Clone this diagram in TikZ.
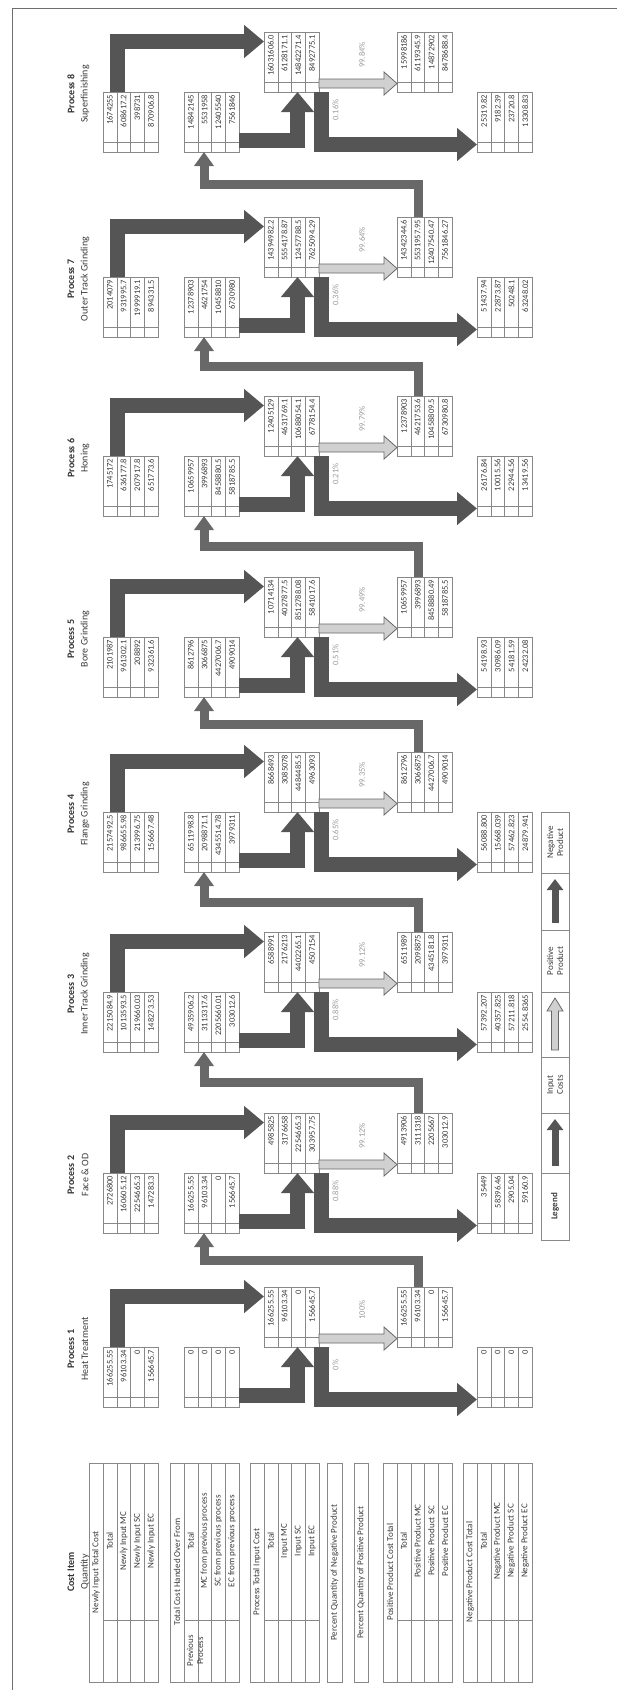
\documentclass[tikz,border=0pt]{standalone}
\usepackage{fontspec}
\setmainfont{Carlito}
\usetikzlibrary{arrows.meta,calc}
\definecolor{ardark}{HTML}{555555}
\definecolor{arfb}{HTML}{686868}
\definecolor{arpos}{HTML}{D0D0D0}
\definecolor{lngray}{HTML}{888888}
\definecolor{txtgray}{HTML}{3C3C3C}
\definecolor{pctgray}{HTML}{9C9C9C}
\definecolor{framegray}{HTML}{6E6E6E}
\tikzset{
  tbl/.style={draw=lngray,line width=0.7pt,fill=white,minimum width=55pt,minimum height=60pt,inner sep=0pt,outer sep=0pt,anchor=north west},
  ctbl/.style={draw=lngray,line width=0.7pt,fill=white,minimum width=69pt,minimum height=219pt,inner sep=0pt,outer sep=0pt,anchor=north west},
  pbox/.style={draw=lngray,line width=0.7pt,fill=white,minimum width=14pt,minimum height=219pt,inner sep=0pt,outer sep=0pt,anchor=north west},
  lgbox/.style={draw=lngray,line width=0.7pt,fill=white,minimum width=28pt,inner sep=0pt,outer sep=0pt,anchor=north west},
  grid/.style={draw=lngray,line width=0.5pt},
  num/.style={rotate=90,anchor=east,inner sep=0pt,text=txtgray,font=\fontsize{8.5}{9}\selectfont},
  ctxt/.style={rotate=90,inner sep=0pt,text=txtgray,font=\fontsize{9}{10}\selectfont},
  pct/.style={rotate=90,inner sep=0pt,text=pctgray,font=\fontsize{8.5}{9}\selectfont},
  ptitle/.style={rotate=90,inner sep=0pt,text=black!80,font=\bfseries\fontsize{10}{11}\selectfont},
  pname/.style={rotate=90,inner sep=0pt,text=txtgray,font=\fontsize{10}{11}\selectfont},
  dk/.style={draw=ardark,line width=15pt,line join=miter,-{Triangle[length=20pt,width=32pt]}},
  fb/.style={draw=arfb,line width=9pt,line join=miter,-{Triangle[length=14pt,width=19pt]}},
  lgdk/.style={draw=ardark,line width=7pt,-{Triangle[length=11pt,width=16pt]}},
  posar/.style={fill=arpos,draw=arfb,line width=0.8pt,line join=miter},
}
% process table: name, x, y(top), four values
\newcommand\ptab[7]{%
  \node[tbl] (#1) at (#2,#3) {};
  \foreach \i in {1,2,3}{\draw[grid] (#2+13.75*\i,#3) -- (#2+13.75*\i,#3+60);}
  \draw[grid] (#2,#3+50) -- (#2+55,#3+50);
  \node[num] (#1-a) at (#2+6.875,#3+2.5) {#4};
  \node[num] (#1-b) at (#2+20.625,#3+2.5) {#5};
  \node[num] (#1-c) at (#2+34.375,#3+2.5) {#6};
  \node[num] (#1-d) at (#2+48.125,#3+2.5) {#7};
}
\newcommand\plabel[3]{%
  \node[ptitle] (pt#1) at (71,#2+2) {Process #1};
  \node[pname] (pn#1) at (85,#2+2) {#3};
}
\newcommand\pcts[4]{%
  \node[pct] (pneg#1) at (335.5,#2+18) {#3};
  \node[pct] (ppos#1) at (362,#2-37) {#4};
}
\newcommand\parr[1]{%
  \draw[dk] ($(in#1.north west)+(14.5,0)$) |- ($(ti#1.north west)+(0,9.5)$);
  \draw[dk] ($(ho#1.north east)+(0,48.5)$) -| ($(ti#1.south west)+(33.5,0)$);
  \draw[dk] ($(ti#1.south east)+(2,0)$) |- ($(ne#1.north west)+(0,52.5)$);
  \filldraw[posar] ($(ti#1.south east)+(0,-13)$) -- ($(po#1.south west)+(-13,-13)$)
     -- ($(po#1.south west)+(-13,-20)$) -- ($(po#1.south west)+(0,-8.5)$)
     -- ($(po#1.south west)+(-13,3)$) -- ($(po#1.south west)+(-13,-4)$)
     -- ($(ti#1.south east)+(0,-4)$) -- cycle;
}
\newcommand\pfb[2]{%
  \draw[fb] ($(po#1.north west)+(21,0)$) |- ($(po#1.north west)!0.5!(ho#2.south west)$)
     -| ($(ho#2.south west)+(20,0)$);
}
% cost item table: name, x0, header, four rows
\newcommand\ctab[7]{%
  \node[ctbl] (#1) at (#2,1463) {};
  \draw[grid] (#2+14,1463) -- (#2+14,1682);
  \foreach \i in {1,2,3}{\draw[grid] (#2+14+13.75*\i,1463) -- (#2+14+13.75*\i,1682);}
  \draw[grid] (#2+14,1620) -- (#2+69,1620);
  \node[ctxt] (#1-h) at (#2+7,1572) {#3};
  \node[ctxt] (#1-a) at (#2+20.875,1541) {#4};
  \node[ctxt] (#1-b) at (#2+34.625,1541) {#5};
  \node[ctxt] (#1-c) at (#2+48.375,1541) {#6};
  \node[ctxt] (#1-d) at (#2+62.125,1541) {#7};
}
\begin{document}
\begin{tikzpicture}[x=1pt,y=-1pt]
\useasboundingbox (0,0) rectangle (617,1690);
\fill[white] (0,0) rectangle (617,1690);
\draw[framegray,line width=1pt] (12,1690) -- (12,8) -- (617,8);

% ---------- Process 8
\plabel{8}{92}{Superfinishing}
\ptab{in8}{103}{92}{1674255}{608617.2}{398731}{870906.8}
\ptab{ho8}{184}{92}{14842145}{5531958}{12405540}{7561846}
\ptab{ti8}{264}{32}{16031606.0}{6128171.1}{14842271.4}{8492775.1}
\ptab{po8}{397}{32}{15998186}{6119345.9}{14872902}{8478688.4}
\ptab{ne8}{477}{92}{25319.82}{9182.39}{23720.8}{13308.83}
\pcts{8}{92}{0.16\%}{99.84\%}
\parr{8}

% ---------- Process 7
\plabel{7}{277}{Outer Track Grinding}
\ptab{in7}{103}{277}{2014079}{931995.7}{1999919.1}{894331.5}
\ptab{ho7}{184}{277}{12378903}{4621754}{10458810}{6730980}
\ptab{ti7}{264}{217}{14394982.2}{5554178.87}{12457788.5}{7625094.29}
\ptab{po7}{397}{217}{14342344.6}{5531957.95}{12407540.47}{7561846.27}
\ptab{ne7}{477}{277}{51437.94}{22873.87}{50248.1}{63248.02}
\pcts{7}{277}{0.36\%}{99.64\%}
\parr{7}

% ---------- Process 6
\plabel{6}{456}{Honing}
\ptab{in6}{103}{456}{1745172}{636177.8}{207917.8}{651773.6}
\ptab{ho6}{184}{456}{10659957}{3996893}{8458880.5}{5818785.5}
\ptab{ti6}{264}{396}{12405129}{4631769.1}{10688054.1}{6778154.4}
\ptab{po6}{397}{396}{12378903}{4621753.6}{10458809.5}{6730980.8}
\ptab{ne6}{477}{456}{26176.84}{10015.56}{22944.56}{13419.56}
\pcts{6}{456}{0.21\%}{99.79\%}
\parr{6}

% ---------- Process 5
\plabel{5}{637}{Bore Grinding}
\ptab{in5}{103}{637}{2101987}{961302.1}{208892}{932361.6}
\ptab{ho5}{184}{637}{8612796}{3066875}{4427006.7}{4909014}
\ptab{ti5}{264}{577}{10714134}{4027877.5}{8512788.08}{5841017.6}
\ptab{po5}{397}{577}{10659957}{3996893}{8458880.49}{5818785.5}
\ptab{ne5}{477}{637}{54198.93}{30986.09}{54181.59}{24232.08}
\pcts{5}{637}{0.51\%}{99.49\%}
\parr{5}

% ---------- Process 4
\plabel{4}{812}{Flange Grinding}
\ptab{in4}{103}{812}{2157492.5}{986655.98}{213996.75}{156667.48}
\ptab{ho4}{184}{812}{6511998.8}{2098871.1}{4345514.78}{3979311}
\ptab{ti4}{264}{752}{8668493}{3085078}{4484485.5}{4963093}
\ptab{po4}{397}{752}{8612796}{3066875}{4427006.7}{4909014}
\ptab{ne4}{477}{812}{56088.800}{15668.039}{57462.823}{24879.941}
\pcts{4}{812}{0.65\%}{99.35\%}
\parr{4}

% ---------- Process 3
\plabel{3}{992}{Inner Track Grinding}
\ptab{in3}{103}{992}{2215084.9}{1013593.5}{219660.03}{148273.53}
\ptab{ho3}{184}{992}{4935906.2}{3113317.6}{2205660.01}{303012.6}
\ptab{ti3}{264}{932}{6588991}{2176213}{4402265.1}{4507154}
\ptab{po3}{397}{932}{6511989}{2098875}{4345181.8}{3979311}
\ptab{ne3}{477}{992}{57392.207}{40357.825}{57211.818}{2554.8365}
\pcts{3}{992}{0.88\%}{99.12\%}
\parr{3}

% ---------- Process 2
\plabel{2}{1173}{Face \& OD}
\ptab{in2}{103}{1173}{2726800}{160605.12}{2254665.3}{147283.3}
\ptab{ho2}{184}{1173}{166255.55}{96103.34}{0}{156645.7}
\ptab{ti2}{264}{1113}{4985825}{3176658}{2254665.3}{303957.75}
\ptab{po2}{397}{1113}{4913906}{3111318}{2205667}{303012.9}
\ptab{ne2}{477}{1173}{35449}{58396.46}{2905.04}{59160.9}
\pcts{2}{1173}{0.88\%}{99.12\%}
\parr{2}

% ---------- Process 1
\plabel{1}{1347}{Heat Treatment}
\ptab{in1}{103}{1347}{166255.55}{96103.34}{0}{156645.7}
\ptab{ho1}{184}{1347}{0}{0}{0}{0}
\ptab{ti1}{264}{1287}{166255.55}{96103.34}{0}{156645.7}
\ptab{po1}{397}{1287}{166255.55}{96103.34}{0}{156645.7}
\ptab{ne1}{477}{1347}{0}{0}{0}{0}
\pcts{1}{1347}{0\%}{100\%}
\parr{1}

% ---------- feedback arrows
\pfb{1}{2}
\pfb{2}{3}
\pfb{3}{4}
\pfb{4}{5}
\pfb{5}{6}
\pfb{6}{7}
\pfb{7}{8}

% ---------- Legend
\node[lgbox,minimum height=61pt] (lgnp) at (541,812) {};
\node[lgbox,minimum height=57pt] (lga3) at (541,873) {};
\node[lgbox,minimum height=62pt] (lgpp) at (541,930) {};
\node[lgbox,minimum height=65pt] (lga2) at (541,992) {};
\node[lgbox,minimum height=56pt] (lgic) at (541,1057) {};
\node[lgbox,minimum height=60pt] (lga1) at (541,1113) {};
\node[lgbox,minimum height=67pt] (lglg) at (541,1173) {};
\node[ctxt,align=center] (lgnpt) at (lgnp.center) {Negative\\Product};
\node[ctxt,align=center] (lgppt) at (lgpp.center) {Positive\\Product};
\node[ctxt,align=center] (lgict) at (lgic.center) {Input\\Costs};
\node[ctxt,font=\bfseries\fontsize{9}{10}\selectfont] (lglgt) at (lglg.center) {Legend};
\draw[lgdk] ($(lga1.south)+(0,-7)$) -- ($(lga1.north)+(0,6)$);
\draw[lgdk] ($(lga3.south)+(0,-7)$) -- ($(lga3.north)+(0,6)$);
\filldraw[posar] ($(lga2.south)+(-3.5,-7)$) -- ($(lga2.north)+(-3.5,19)$) -- ($(lga2.north)+(-8,19)$)
   -- ($(lga2.north)+(0,6)$) -- ($(lga2.north)+(8,19)$) -- ($(lga2.north)+(3.5,19)$)
   -- ($(lga2.south)+(3.5,-7)$) -- cycle;

% ---------- Cost item column
\node[ptitle] (cih) at (71,1572) {Cost Item};
\node[pname] (ciq) at (85,1572) {Quantity};
\ctab{c1}{89}{Newly Input Total Cost}{Total}{Newly Input MC}{Newly Input SC}{Newly Input EC}
\ctab{c2}{170}{Total Cost Handed Over From}{Total}{MC from previous process}{SC from previous process}{EC from previous process}
\node[ctxt,align=center] (c2p) at (195,1651) {Previous\\Process};
\ctab{c3}{250}{Process Total Input Cost}{Total}{Input MC}{Input SC}{Input EC}
\node[pbox,minimum width=15pt] (c4) at (327,1463) {};
\node[ctxt] (c4t) at (c4.center) {Percent Quantity of Negative Product};
\node[pbox] (c5) at (354,1463) {};
\node[ctxt] (c5t) at (c5.center) {Percent Quantity of Positive Product};
\ctab{c6}{383}{Positive Product Cost Total}{Total}{Positive Product MC}{Positive Product SC}{Positive Product EC}
\ctab{c7}{463}{Negative Product Cost Total}{Total}{Negative Product MC}{Negative Product SC}{Negative Product EC}
\end{tikzpicture}
\end{document}
